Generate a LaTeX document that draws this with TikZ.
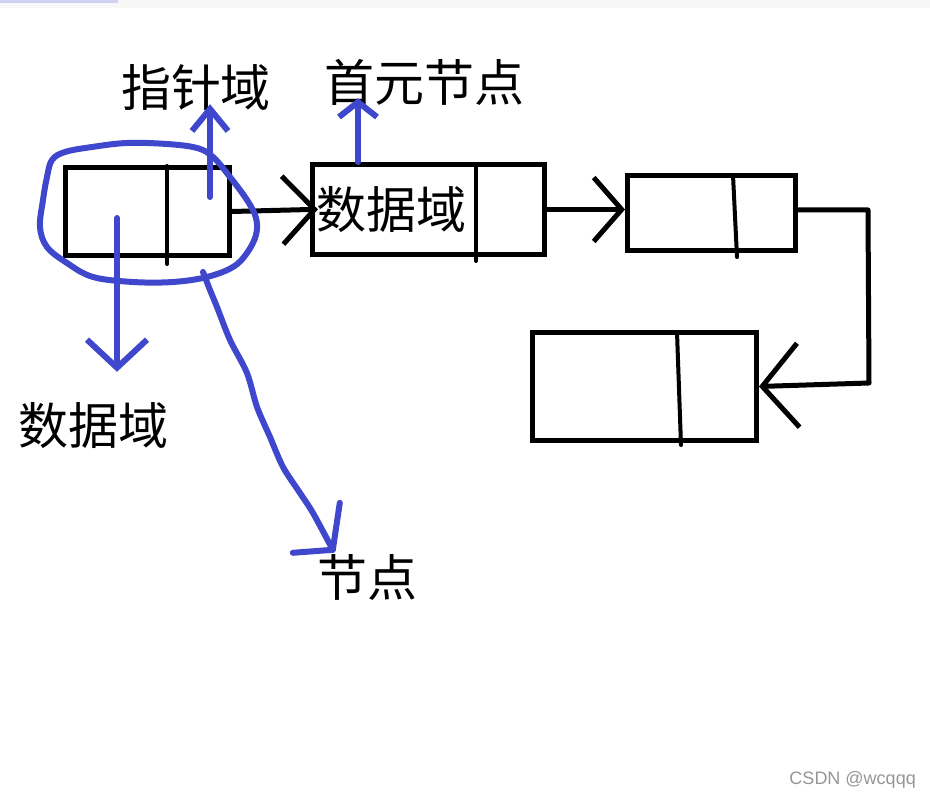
\documentclass[tikz,border=0pt]{standalone}
\usepackage{fontspec}
\newfontfamily\cjk{Noto Sans CJK SC}
\newfontfamily\wmfont{Liberation Sans}
\usetikzlibrary{arrows.meta}
\definecolor{penblue}{RGB}{63,72,204}
\definecolor{wmgray}{RGB}{150,150,150}

\begin{document}
\begin{tikzpicture}[x=1pt, y=-1pt,
  cell/.style={draw, line width=5pt, inner sep=0pt},
  wall/.style={line width=4pt, line cap=round},
  link/.style={line width=5pt, line cap=round, line join=round},
  ink/.style={draw=penblue, line width=6pt, line cap=round, line join=round},
  lbl/.style={font=\cjk\fontsize{50}{50}\selectfont, inner sep=0pt, text height=40pt, text depth=0pt, anchor=base}]
\useasboundingbox (0,0) rectangle (930,799);
\fill[white] (0,0) rectangle (930,799);
% Top strip
\fill[gray!6] (0,0) rectangle (930,8);
\fill[penblue!25] (0,0) rectangle (118,3);
% Nodes of the list
\node[cell, minimum width=164pt, minimum height=88pt] (b1) at (147.5,211.5) {};
\node[cell, minimum width=232pt, minimum height=90pt] (b2) at (428.5,209.5) {};
\node[cell, minimum width=168pt, minimum height=75pt] (b3) at (711.5,213) {};
\node[cell, minimum width=224pt, minimum height=108pt] (b4) at (644.5,386.5) {};
% Dividers
\draw[wall] (167,166) -- (167,264);
\draw[wall] (476,166) -- (476,261);
\draw[wall] (733,175) -- (737,257);
\draw[wall] (677,332) -- (681,445);
% Texts
\node[lbl] (t_ptr) at (196,107) {指针域};
\node[lbl] (t_head) at (424,102) {首元节点};
\node[lbl] (t_field) at (391,229) {数据域};
\node[lbl] (t_data) at (94,445) {数据域};
\node[lbl] (t_node) at (367,597) {节点};
\node[font=\wmfont\fontsize{18}{18}\selectfont, text=wmgray, inner sep=0pt, anchor=base east] (wm) at (916,784) {CSDN @wcqqq};
% Links
\draw[link, -{Straight Barb[length=32pt,width=68pt]}, shorten >=-8pt] (b1.east) -- (b2.west);
\draw[link, -{Straight Barb[length=28pt,width=64pt]}] (b2.east) -- (b3.west |- b2.east);
\coordinate (r1) at (868,209);
\coordinate (r2) at (869,383);
\draw[link, -{Straight Barb[length=36pt,width=84pt]}] ([yshift=3pt]b3.east) -- ([yshift=3pt]b3.east -| r1) -- (r2) -- (b4.east);
% Blue notes
\draw[ink] plot[smooth cycle, tension=0.6] coordinates {(92,147) (127,143) (167,144) (197,148) (213,157) (230,177) (247,200) (256,218) (256,235) (247,253) (233,267) (207,277) (173,282) (133,282) (93,277) (67,263) (47,247) (40,227) (43,200) (47,177) (52,160) (65,152)};
\coordinate (p0) at (210,197);
\draw[ink, -{Straight Barb[length=22pt,width=36pt]}, shorten >=-3pt] (p0) -- (p0 |- t_ptr.south);
\coordinate (d0) at (117,218);
\draw[ink, -{Straight Barb[length=28pt,width=60pt]}, shorten >=33pt] (d0) -- (d0 |- t_data.north);
\coordinate (h0) at ([xshift=48pt]b2.north west);
\draw[ink, -{Straight Barb[length=15pt,width=38pt]}, shorten >=-4pt] (h0) -- (h0 |- t_head.south);
\coordinate (n0) at (203,272);
\coordinate (ntip) at ([xshift=16pt,yshift=7pt]t_node.north west);
\draw[ink] plot[smooth] coordinates {(n0) (210,290) (217,307) (230,340) (247,373) (257,407) (270,437) (283,467) (300,493) (313,513) (ntip)};
\draw[ink] ([shift={(7,-47)}]ntip) -- (ntip) -- ([shift={(-40,3)}]ntip);
\end{tikzpicture}
\end{document}
